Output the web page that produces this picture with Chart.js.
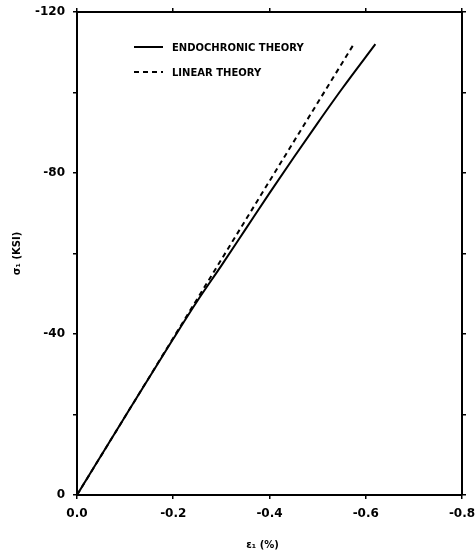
<!DOCTYPE html>
<html>
<head>
<meta charset="utf-8">
<script src="https://cdn.jsdelivr.net/npm/chart.js@4.4.1/dist/chart.umd.min.js"></script>
<style>
  html, body { margin: 0; padding: 0; background: #fff; }
  #wrap { width: 476px; height: 559px; position: relative; }
</style>
</head>
<body>
<div id="wrap"><canvas id="c"></canvas></div>
<script>
// strain eps1 (%) and stress sigma1 (ksi)
const endoStrain = [0.0, -0.1, -0.2, -0.25, -0.3, -0.35, -0.4, -0.45, -0.5, -0.55, -0.62];
const endoStress = [0, -19.5, -38.8, -48.2, -57, -66, -75, -83.8, -92.4, -100.8, -112];
const linStrain = [0.0, -0.2, -0.4, -0.575];
const linStress = [0, -39, -78, -112];
const seriesLabels = ['ENDOCHRONIC THEORY', 'LINEAR THEORY'];
const xTicks = [0, -0.2, -0.4, -0.6, -0.8];
const yTicks = [0, -20, -40, -60, -80, -100, -120];
const yLabelled = [0, -40, -80, -120];

const toPts = (xs, ys) => xs.map((x, i) => ({ x: x, y: ys[i] }));

const FONT = 'DejaVu Sans';

// legend drawn inside the plot, upper left
const innerLegend = {
  id: 'innerLegend',
  afterDatasetsDraw(chart) {
    const { ctx, chartArea } = chart;
    const x0 = chartArea.left + 57, y0 = chartArea.top + 35;
    ctx.save();
    chart.data.datasets.forEach((ds, i) => {
      const y = y0 + i * 25;
      ctx.strokeStyle = '#000';
      ctx.lineWidth = 2;
      ctx.setLineDash(ds.borderDash || []);
      ctx.beginPath();
      ctx.moveTo(x0, y);
      ctx.lineTo(x0 + 29, y);
      ctx.stroke();
      ctx.setLineDash([]);
      ctx.fillStyle = '#000';
      ctx.font = 'bold 10px "' + FONT + '"';
      ctx.textBaseline = 'middle';
      ctx.fillText(ds.label, x0 + 38, y + 1);
    });
    ctx.restore();
  }
};

// fixed box sizes, no label overhang padding
const fixBox = (w, h) => s => {
  if (w != null) s.width = w;
  if (h != null) s.height = h;
  s.paddingLeft = s.paddingRight = s.paddingTop = s.paddingBottom = 0;
};

const edgeAxis = (pos) => ({
  type: 'linear',
  position: pos,
  grid: { drawOnChartArea: false, drawTicks: true, tickLength: 4, color: '#000', lineWidth: 1.5 },
  border: { display: true, color: '#000', width: 2 },
  ticks: { display: false }
});

new Chart(document.getElementById('c'), {
  type: 'scatter',
  data: {
    datasets: [
      {
        label: seriesLabels[0],
        data: toPts(endoStrain, endoStress),
        showLine: true,
        borderColor: '#000',
        borderWidth: 2,
        pointRadius: 0,
        cubicInterpolationMode: 'monotone',
        xAxisID: 'x', yAxisID: 'y'
      },
      {
        label: seriesLabels[1],
        data: toPts(linStrain, linStress),
        showLine: true,
        borderColor: '#000',
        borderWidth: 2,
        borderDash: [5, 4],
        pointRadius: 0,
        xAxisID: 'x', yAxisID: 'y'
      }
    ]
  },
  options: {
    responsive: true,
    maintainAspectRatio: false,
    animation: false,
    layout: { padding: 0 },
    plugins: { legend: { display: false }, tooltip: { enabled: false } },
    scales: {
      x: {
        type: 'linear',
        position: 'bottom',
        min: -0.8, max: 0,
        reverse: true,
        afterBuildTicks: s => { s.ticks = xTicks.map(v => ({ value: v })); },
        afterFit: fixBox(null, 64),
        grid: { drawOnChartArea: false, drawTicks: true, tickLength: 4, color: '#000', lineWidth: 1.5 },
        border: { display: true, color: '#000', width: 2 },
        ticks: {
          color: '#000',
          padding: 8,
          maxRotation: 0,
          font: { family: FONT, size: 12, weight: 'bold' },
          callback: v => (v === 0 ? '0.0' : v.toFixed(1))
        },
        title: {
          display: true,
          text: 'ε₁ (%)    ',
          color: '#000',
          font: { family: FONT, size: 10, weight: 'bold' },
          padding: { top: 0, bottom: 8 }
        }
      },
      y: {
        type: 'linear',
        position: 'left',
        min: -120, max: 0,
        reverse: true,
        afterBuildTicks: s => { s.ticks = yTicks.map(v => ({ value: v })); },
        afterFit: fixBox(77, null),
        grid: { drawOnChartArea: false, drawTicks: true, tickLength: 4, color: '#000', lineWidth: 1.5 },
        border: { display: true, color: '#000', width: 2 },
        ticks: {
          color: '#000',
          padding: 8,
          font: { family: FONT, size: 12, weight: 'bold' },
          callback: v => (yLabelled.includes(v) ? String(v) : '')
        },
        title: {
          display: true,
          text: 'σ₁ (KSI)',
          color: '#000',
          font: { family: FONT, size: 10, weight: 'bold' },
          padding: { top: 11, bottom: 0 }
        }
      },
      x2: Object.assign(edgeAxis('top'), {
        min: -0.8, max: 0, reverse: true,
        afterBuildTicks: s => { s.ticks = xTicks.map(v => ({ value: v })); },
        afterFit: fixBox(null, 12)
      }),
      y2: Object.assign(edgeAxis('right'), {
        min: -120, max: 0, reverse: true,
        afterBuildTicks: s => { s.ticks = yTicks.map(v => ({ value: v })); },
        afterFit: fixBox(14, null)
      })
    }
  },
  plugins: [innerLegend]
});
</script>
</body>
</html>
